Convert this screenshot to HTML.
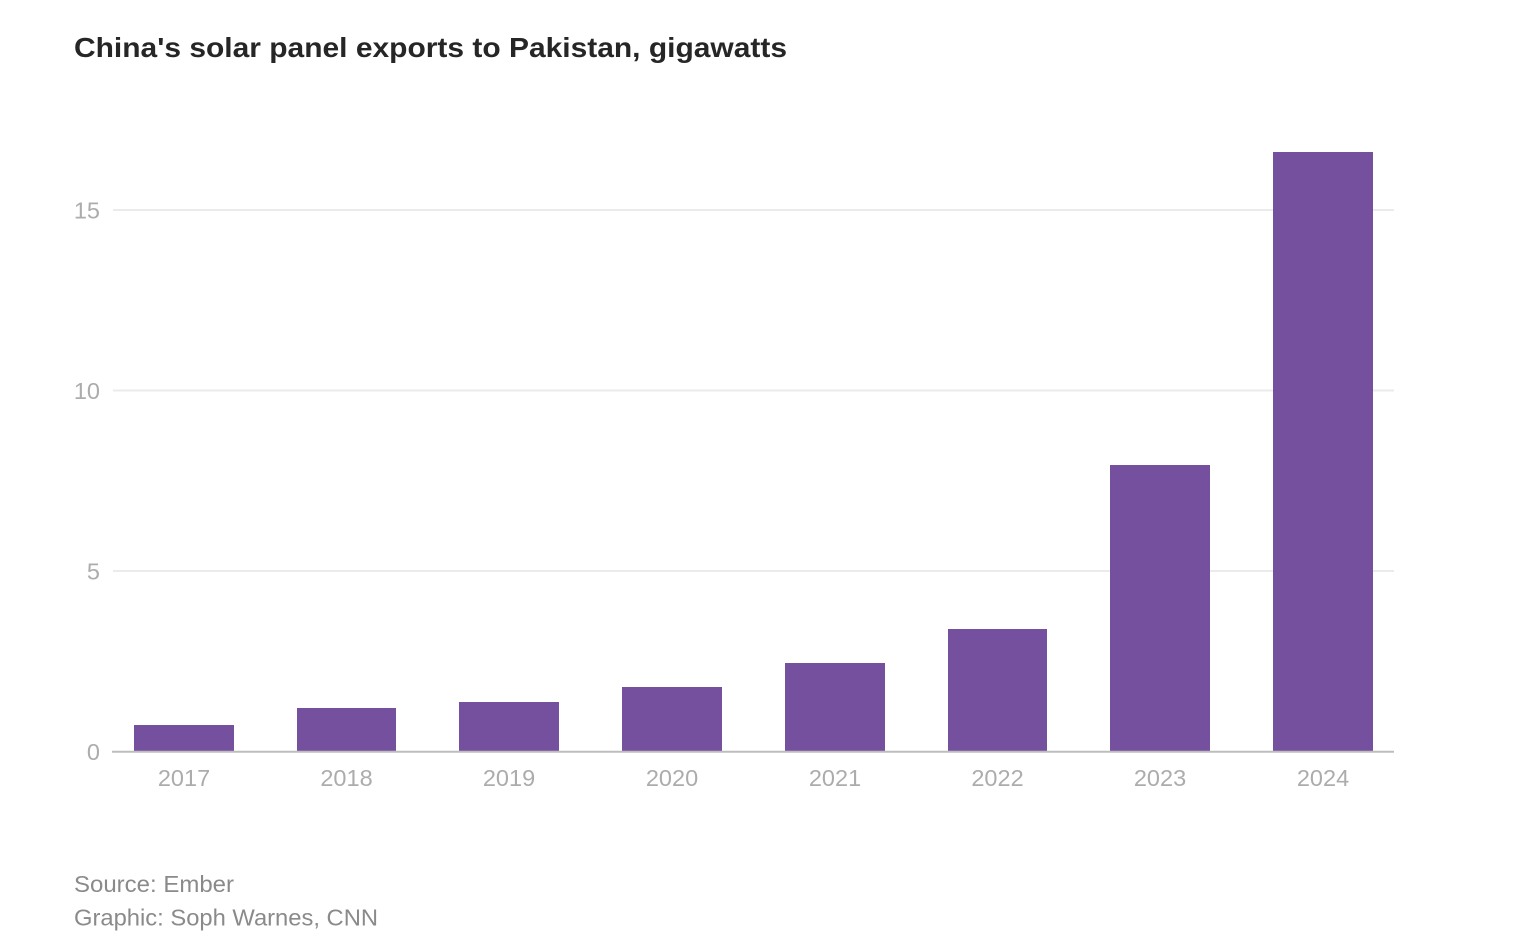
<!DOCTYPE html>
<html>
<head>
<meta charset="utf-8">
<style>
  html,body{margin:0;padding:0;background:#fff;}
  svg{display:block;}
  text{font-family:"Liberation Sans", Arial, sans-serif;}
</style>
</head>
<body>
<svg width="1528" height="948" viewBox="0 0 1528 948" xmlns="http://www.w3.org/2000/svg">
  <rect x="0" y="0" width="1528" height="948" fill="#ffffff"/>
  <!-- Title -->
  <text x="74" y="57" font-size="28" font-weight="bold" fill="#262626" textLength="713" lengthAdjust="spacingAndGlyphs">China's solar panel exports to Pakistan, gigawatts</text>

  <!-- Gridlines -->
  <g stroke="#ebebeb" stroke-width="2">
    <line x1="113" y1="210" x2="1394" y2="210"/>
    <line x1="113" y1="390.5" x2="1394" y2="390.5"/>
    <line x1="113" y1="571" x2="1394" y2="571"/>
  </g>

  <!-- Y labels -->
  <g font-size="23.5" fill="#acacac" text-anchor="end">
    <text x="100" y="218.5">15</text>
    <text x="100" y="399">10</text>
    <text x="100" y="579.5">5</text>
    <text x="100" y="760">0</text>
  </g>

  <!-- Bars -->
  <g fill="#75509f">
    <rect x="134" y="725" width="100" height="26.5"/>
    <rect x="297" y="708" width="99" height="43.5"/>
    <rect x="459" y="702" width="100" height="49.5"/>
    <rect x="622" y="687" width="100" height="64.5"/>
    <rect x="785" y="663" width="100" height="88.5"/>
    <rect x="948" y="629" width="99" height="122.5"/>
    <rect x="1110" y="465" width="100" height="286.5"/>
    <rect x="1273" y="152" width="100" height="599.5"/>
  </g>

  <!-- Axis -->
  <line x1="112" y1="751.7" x2="1394" y2="751.7" stroke="#bdbdbd" stroke-width="2"/>

  <!-- X labels -->
  <g font-size="23.5" fill="#acacac" text-anchor="middle">
    <text x="184" y="786">2017</text>
    <text x="346.5" y="786">2018</text>
    <text x="509" y="786">2019</text>
    <text x="672" y="786">2020</text>
    <text x="835" y="786">2021</text>
    <text x="997.5" y="786">2022</text>
    <text x="1160" y="786">2023</text>
    <text x="1323" y="786">2024</text>
  </g>

  <!-- Footer -->
  <text x="74" y="892" font-size="23" fill="#8a8a8a" textLength="160" lengthAdjust="spacingAndGlyphs">Source: Ember</text>
  <text x="74" y="925.5" font-size="23" fill="#8a8a8a" textLength="304" lengthAdjust="spacingAndGlyphs">Graphic: Soph Warnes, CNN</text>
</svg>
</body>
</html>
